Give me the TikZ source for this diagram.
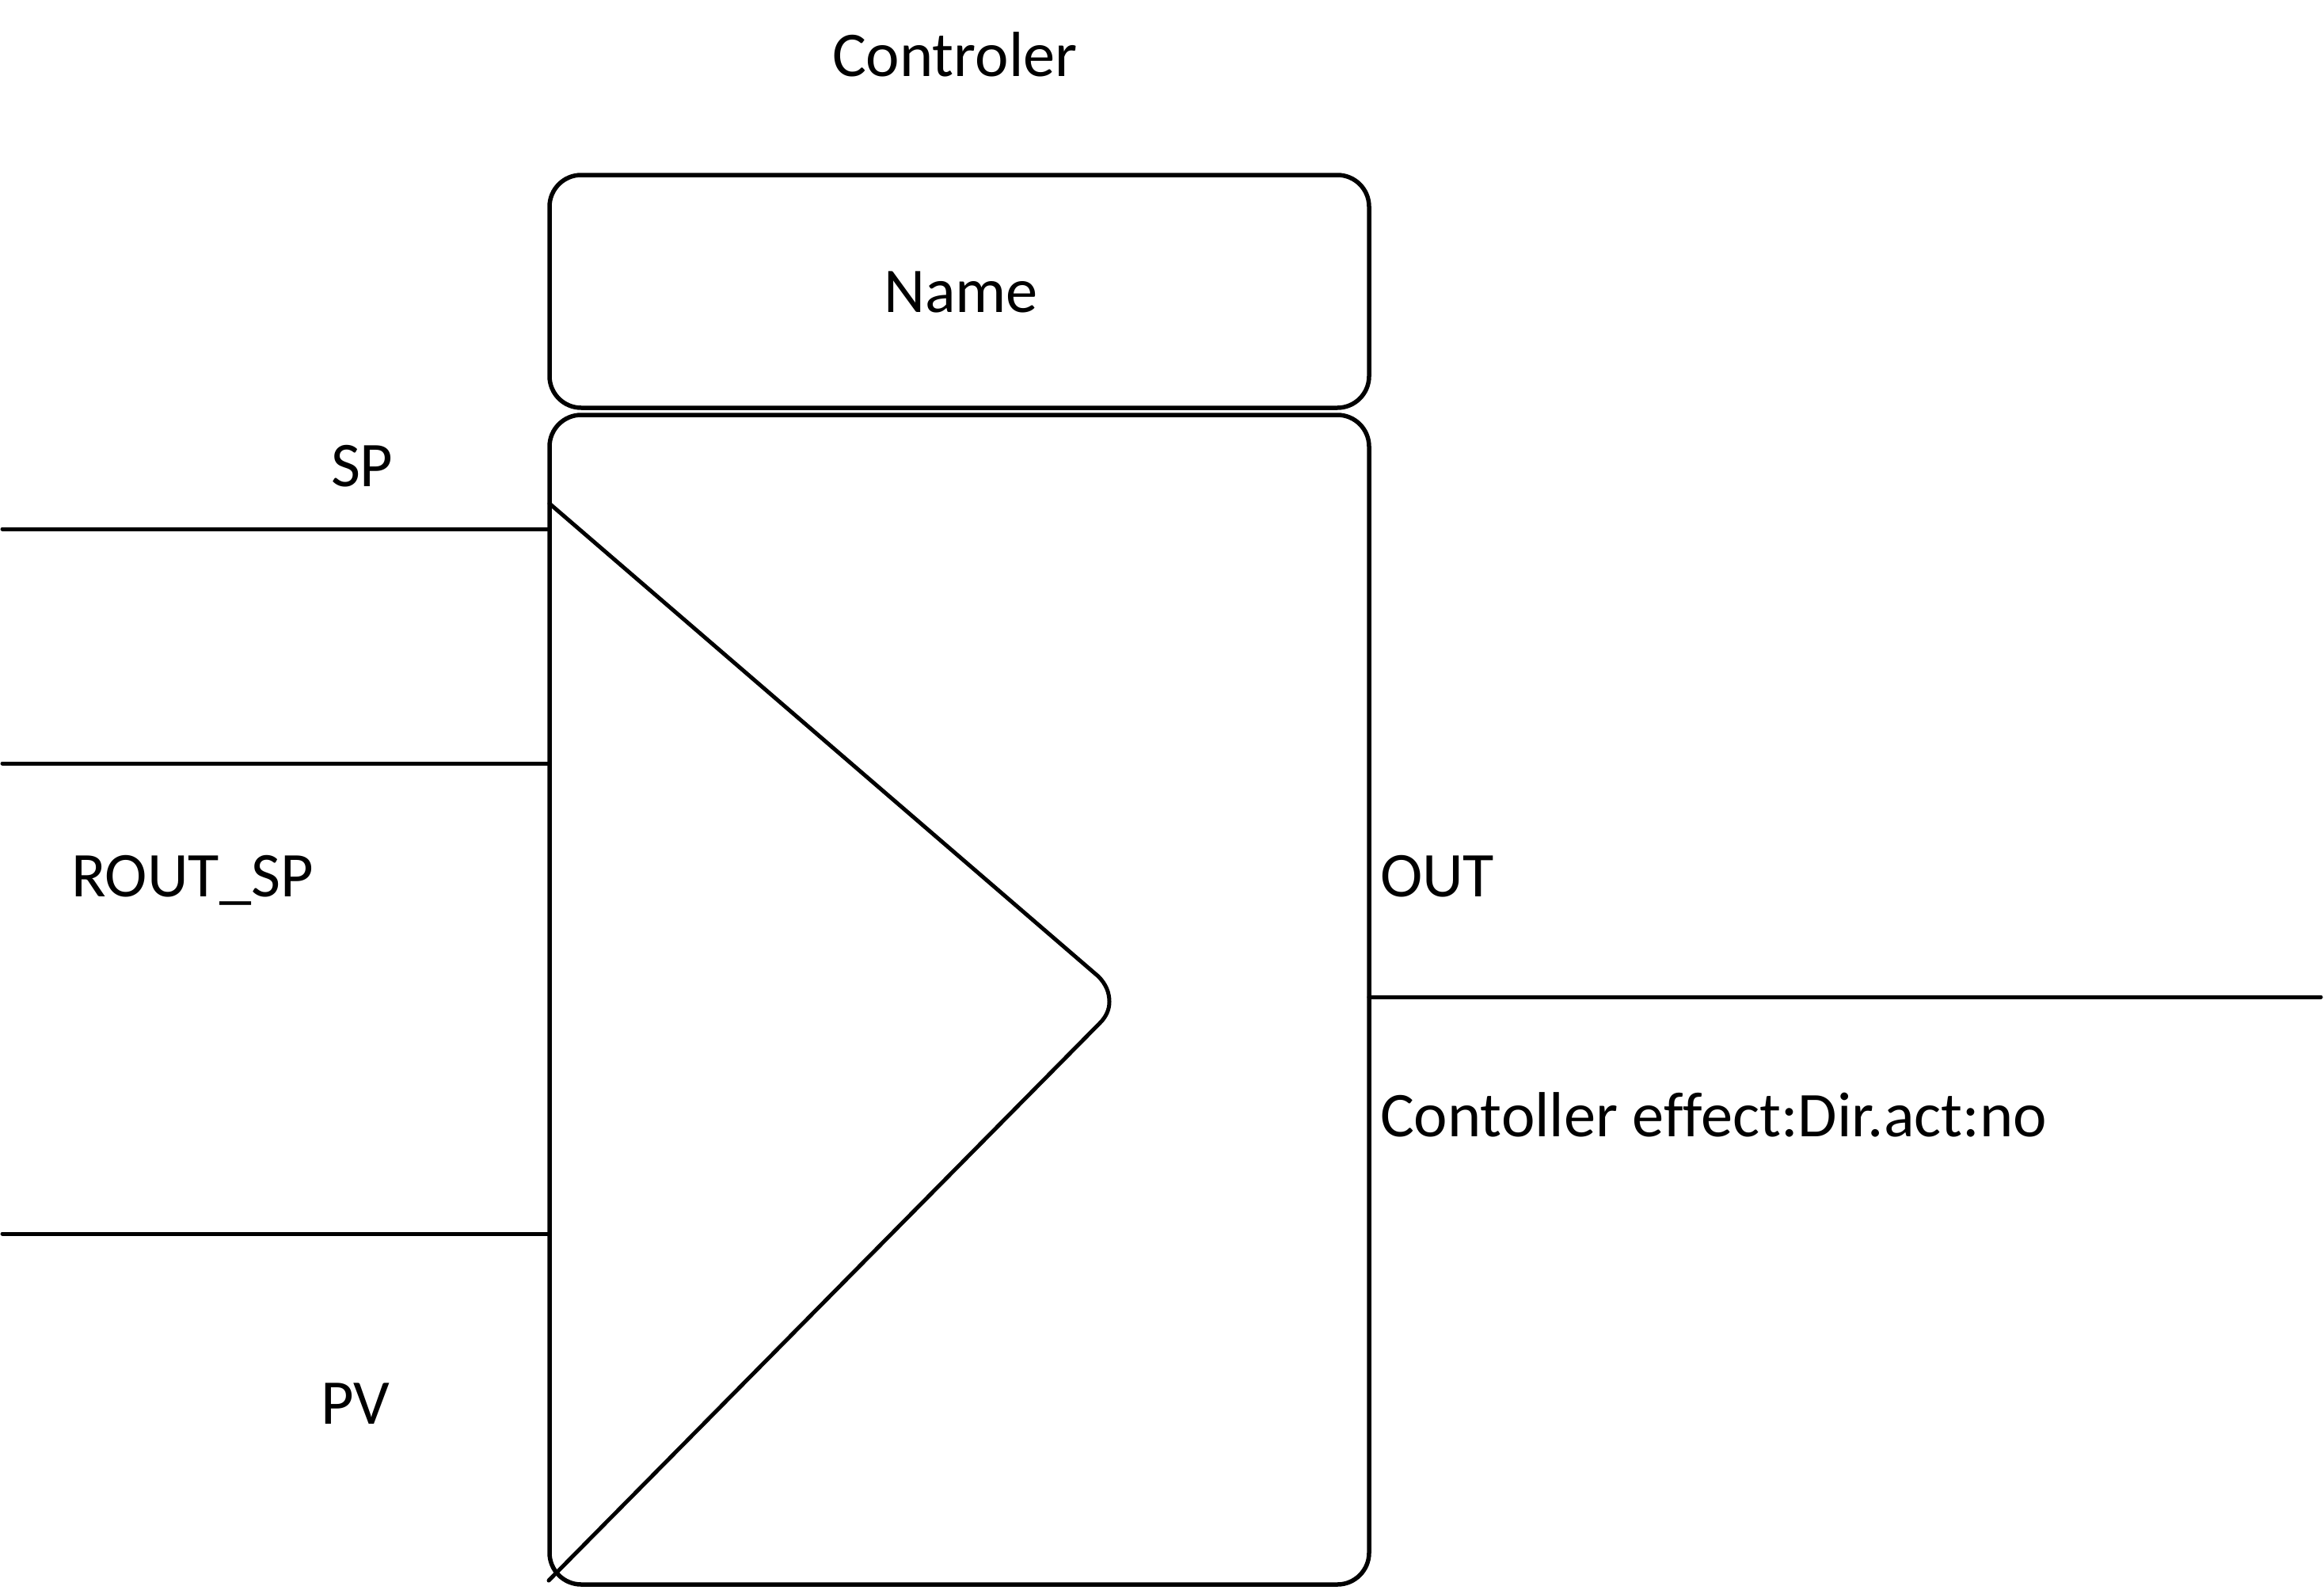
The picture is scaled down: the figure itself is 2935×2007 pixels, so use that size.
\documentclass[tikz,border=0pt]{standalone}
\usepackage{fontspec}
\setmainfont[Ligatures=NoCommon]{Carlito}
\tikzset{
  boxshape/.style={draw=black, line width=5.5pt, rounded corners=40pt, minimum width=1035pt, inner sep=0pt, outer sep=0pt},
  wire/.style={draw=black, line width=5pt, line cap=round, line join=round},
  lbl/.style={anchor=base west, inner sep=0pt, outer sep=0pt, text=black, font=\fontsize{80.5}{92}\selectfont}
}
\begin{document}
\begin{tikzpicture}[x=1pt,y=-1pt]
\useasboundingbox (0,0) rectangle (2935,2007);
\fill[white] (0,0) rectangle (2935,2007);
% boxes
\node[boxshape, minimum height=294pt] (namebox) at (1211.5,368) {};
\node[boxshape, minimum height=1477pt] (body) at (1211.5,1262.5) {};
% triangle
\coordinate (triTop) at (694,636);
\coordinate (triA) at (1387,1233);
\coordinate (triTip) at (1401,1265);
\coordinate (triB) at (1389,1292);
\coordinate (triBot) at (693,1996);
\draw[wire] (triTop) -- (triA) .. controls (1397,1243) and (1401,1254) .. (triTip)
  .. controls (1401,1275) and (1397,1284) .. (triB) -- (triBot);
% wires
\coordinate (spEnd) at (3,668);
\coordinate (routEnd) at (3,964);
\coordinate (pvEnd) at (3,1558);
\coordinate (outEnd) at (2931,1259);
\draw[wire] (spEnd) -- (spEnd -| body.west);
\draw[wire] (routEnd) -- (routEnd -| body.west);
\draw[wire] (pvEnd) -- (pvEnd -| body.west);
\draw[wire] (outEnd -| body.east) -- (outEnd);
% labels
\node[lbl] (lblController) at (1051,97) {Controler};
\node[lbl] (lblName) at (1116,394) {Name};
\node[lbl] (lblSP) at (418,614) {SP};
\node[lbl] (lblRout) at (90,1132) {ROUT\_SP};
\node[lbl] (lblOut) at (1743,1132) {OUT};
\node[lbl] (lblEffect) at (1743,1435) {Contoller ef\kern0pt fect:Dir.act:no};
\node[lbl] (lblPV) at (405,1798) {PV};
\end{tikzpicture}
\end{document}
